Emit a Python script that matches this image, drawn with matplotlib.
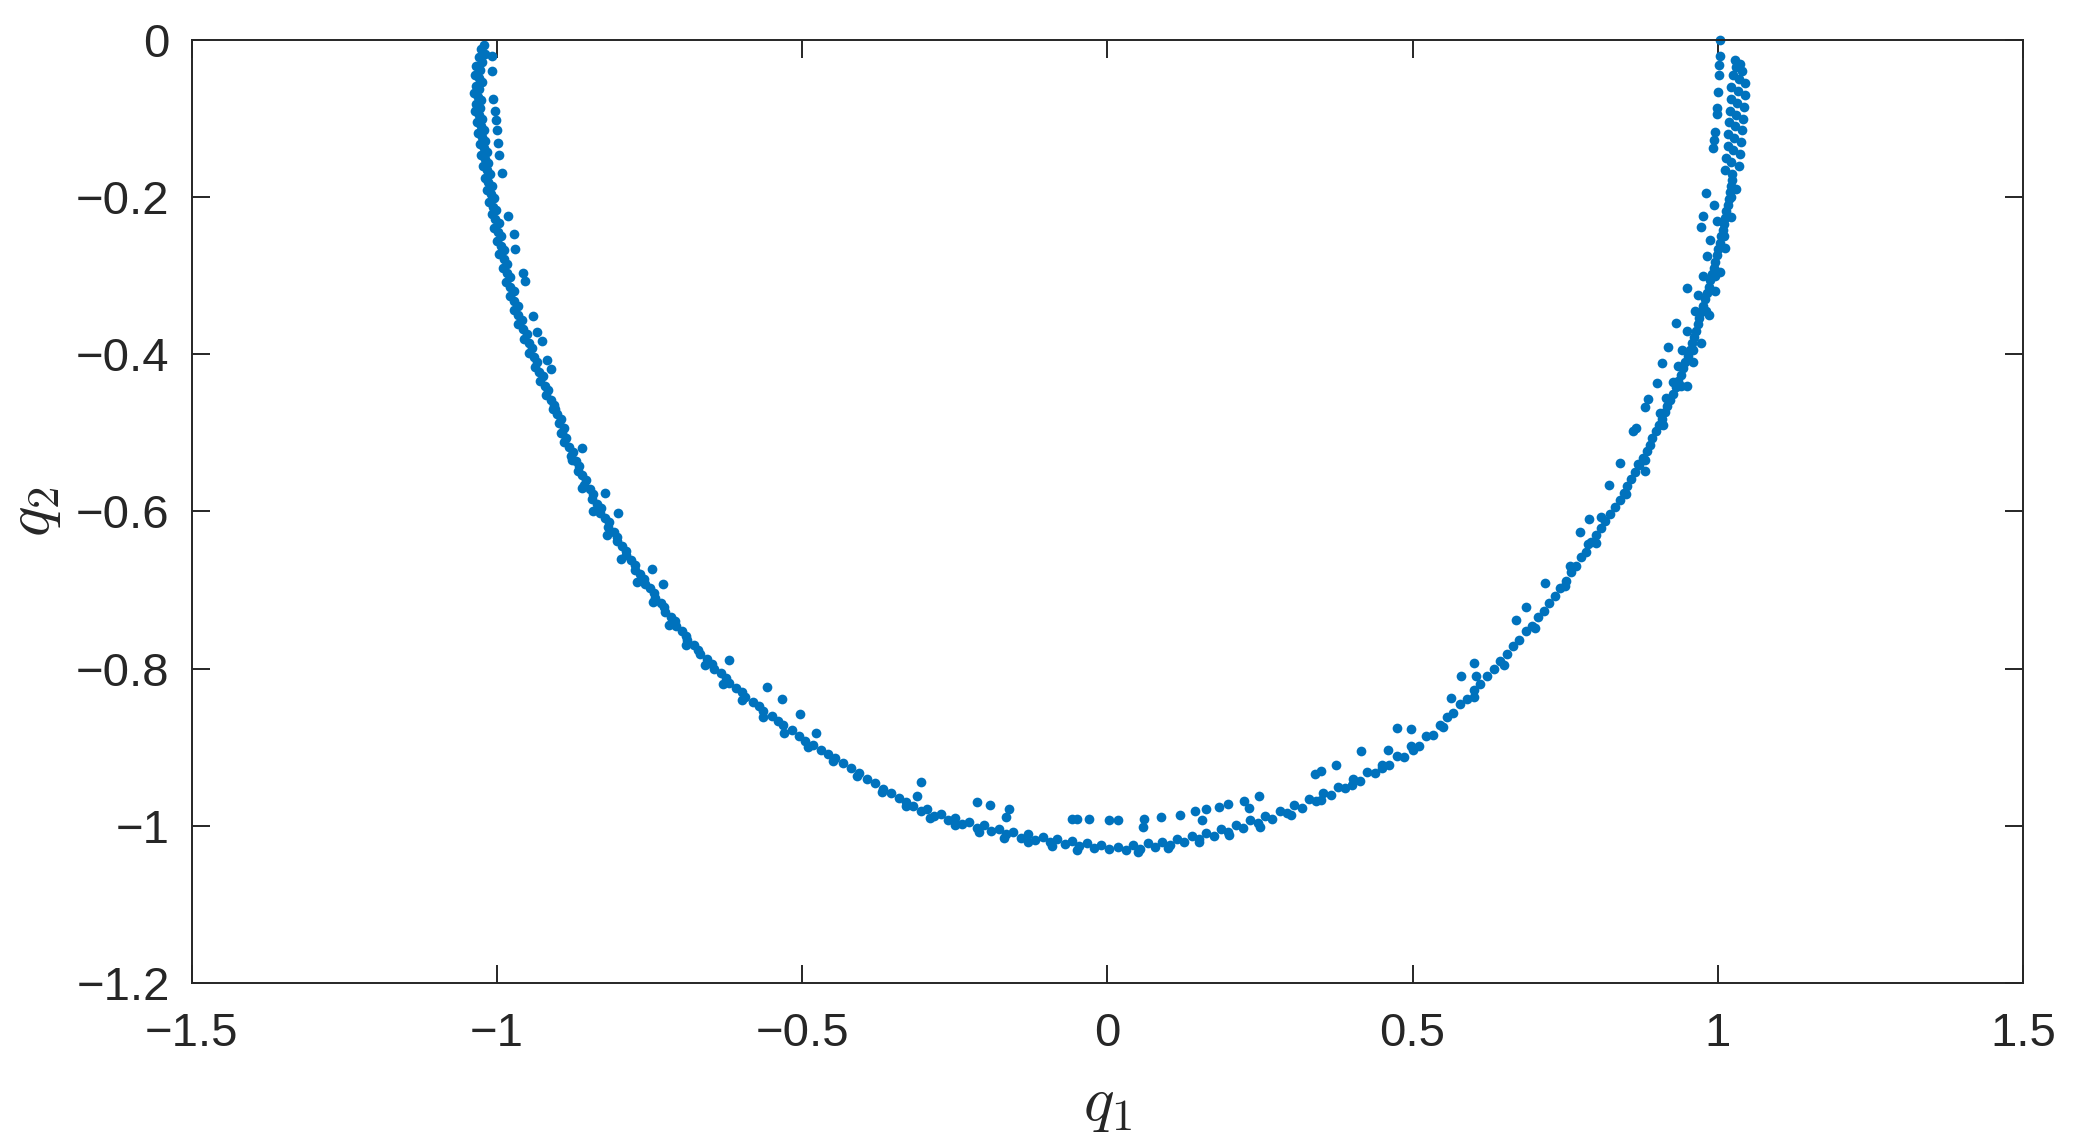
import numpy as np
import matplotlib
matplotlib.use('Agg')
import matplotlib.pyplot as plt

# (q1, q2) samples, grouped by where they sit on the arc
left_arm = [
    (-1.022, -0.006), (-1.027, -0.012), (-1.020, -0.018), (-1.030, -0.022), (-1.025, -0.028),
    (-1.034, -0.033), (-1.028, -0.038), (-1.036, -0.044), (-1.030, -0.049), (-1.024, -0.053),
    (-1.035, -0.058), (-1.029, -0.063), (-1.037, -0.068), (-1.031, -0.072), (-1.026, -0.077),
    (-1.034, -0.082), (-1.028, -0.087), (-1.036, -0.091), (-1.030, -0.096), (-1.024, -0.101),
    (-1.033, -0.105), (-1.027, -0.110), (-1.021, -0.114), (-1.031, -0.119), (-1.025, -0.124),
    (-1.019, -0.128), (-1.028, -0.133), (-1.022, -0.138), (-1.017, -0.142), (-1.026, -0.147),
    (-1.020, -0.152), (-1.014, -0.157), (-1.023, -0.161), (-1.017, -0.166), (-1.011, -0.171),
    (-1.020, -0.176), (-1.014, -0.181), (-1.008, -0.186), (-1.016, -0.191), (-1.010, -0.196),
    (-1.005, -0.201), (-1.013, -0.206), (-1.007, -0.212), (-1.001, -0.217), (-1.009, -0.222),
    (-1.003, -0.228), (-0.997, -0.233), (-1.005, -0.239), (-0.999, -0.245), (-0.993, -0.250),
    (-1.000, -0.256), (-0.994, -0.262), (-0.988, -0.267), (-0.996, -0.273), (-0.989, -0.279),
    (-0.983, -0.285), (-0.991, -0.290), (-0.984, -0.296), (-0.978, -0.302), (-0.985, -0.308),
    (-0.979, -0.314), (-0.972, -0.320), (-0.979, -0.326), (-0.972, -0.332), (-0.966, -0.338),
    (-0.972, -0.344), (-0.965, -0.350), (-0.959, -0.356), (-0.965, -0.362), (-0.957, -0.368),
    (-0.951, -0.374), (-0.956, -0.380), (-0.948, -0.386), (-0.942, -0.392), (-0.947, -0.398),
    (-0.940, -0.404), (-0.934, -0.410), (-0.938, -0.416), (-0.931, -0.422), (-0.925, -0.428),
    (-0.929, -0.434), (-0.921, -0.440), (-0.916, -0.446), (-0.919, -0.452), (-0.911, -0.458),
    (-0.906, -0.464), (-0.909, -0.470), (-0.901, -0.476), (-0.896, -0.482), (-0.898, -0.488),
    (-0.890, -0.494), (-0.893, -0.500), (-0.887, -0.506), (-0.890, -0.512), (-0.882, -0.518),
    (-0.876, -0.524), (-0.879, -0.530), (-0.871, -0.536), (-0.866, -0.542), (-0.868, -0.548),
    (-0.860, -0.554), (-0.855, -0.560), (-0.857, -0.566), (-0.848, -0.572), (-0.843, -0.578),
    (-0.844, -0.584), (-0.836, -0.590), (-0.830, -0.596), (-0.832, -0.602), (-0.823, -0.608),
    (-0.817, -0.614), (-0.818, -0.620), (-0.809, -0.626), (-0.803, -0.632), (-0.804, -0.638),
    (-0.795, -0.644), (-0.789, -0.650), (-0.789, -0.656), (-0.780, -0.662), (-0.774, -0.668),
    (-0.774, -0.674), (-0.765, -0.680), (-0.759, -0.686), (-0.758, -0.692), (-0.749, -0.698),
    (-0.743, -0.704), (-0.742, -0.710), (-0.732, -0.716), (-0.726, -0.722), (-0.725, -0.728),
    (-0.715, -0.734), (-0.709, -0.740), (-0.707, -0.746), (-0.697, -0.752), (-0.690, -0.758),
    (-0.688, -0.764), (-0.677, -0.770), (-0.670, -0.776), (-0.667, -0.782), (-0.656, -0.788),
    (-0.648, -0.794), (-0.645, -0.800), (-0.633, -0.806), (-0.625, -0.812), (-0.620, -0.818),
    (-0.608, -0.824), (-0.599, -0.830), (-0.593, -0.836), (-0.580, -0.842), (-0.571, -0.848),
    (-0.564, -0.854), (-0.550, -0.860), (-0.540, -0.866), (-0.532, -0.872), (-0.517, -0.878),
    (-0.506, -0.886), (-0.496, -0.892), (-0.483, -0.897), (-0.470, -0.903), (-0.458, -0.908),
    (-0.446, -0.914), (-0.433, -0.920), (-0.420, -0.927), (-0.407, -0.933), (-0.394, -0.940),
    (-0.381, -0.946), (-0.368, -0.953), (-0.355, -0.958), (-0.342, -0.964),
]

bottom_arc = [
    (-0.330, -0.970), (-0.318, -0.975), (-0.306, -0.981), (-0.295, -0.979), (-0.284, -0.987),
    (-0.272, -0.985), (-0.261, -0.992), (-0.250, -0.990), (-0.238, -0.998), (-0.226, -0.995),
    (-0.214, -1.003), (-0.202, -0.999), (-0.190, -1.007), (-0.178, -1.004), (-0.166, -1.011),
    (-0.154, -1.008), (-0.142, -1.015), (-0.130, -1.011), (-0.118, -1.018), (-0.106, -1.014),
    (-0.094, -1.020), (-0.082, -1.017), (-0.070, -1.023), (-0.058, -1.019), (-0.046, -1.026),
    (-0.034, -1.022), (-0.022, -1.028), (-0.010, -1.024), (0.002, -1.030), (0.018, -1.027),
    (0.030, -1.031), (0.042, -1.025), (0.054, -1.029), (0.066, -1.022), (0.078, -1.027),
    (0.090, -1.020), (0.102, -1.024), (0.114, -1.017), (0.126, -1.021), (0.138, -1.013),
    (0.150, -1.017), (0.162, -1.009), (0.174, -1.013), (0.186, -1.004), (0.198, -1.008),
    (0.210, -0.999), (0.222, -1.003), (0.234, -0.993), (0.246, -0.997), (0.258, -0.987),
    (0.270, -0.991), (0.282, -0.981), (0.294, -0.984), (0.306, -0.974), (0.318, -0.977),
    (0.330, -0.966), (0.342, -0.969), (0.354, -0.958), (0.366, -0.961), (0.378, -0.950),
    (0.390, -0.952), (0.402, -0.941), (0.414, -0.943), (0.426, -0.932), (0.438, -0.933),
    (0.450, -0.922), (0.462, -0.923), (0.474, -0.911), (0.486, -0.912), (0.498, -0.899),
    (0.510, -0.899), (0.522, -0.886), (0.534, -0.885),
]

right_arm = [
    (0.545, -0.872), (0.556, -0.862), (0.567, -0.856), (0.578, -0.845), (0.589, -0.838),
    (0.600, -0.827), (0.611, -0.820), (0.622, -0.809), (0.633, -0.801), (0.644, -0.790),
    (0.655, -0.782), (0.665, -0.771), (0.675, -0.764), (0.685, -0.752), (0.695, -0.746),
    (0.705, -0.734), (0.715, -0.727), (0.724, -0.716), (0.733, -0.708), (0.742, -0.697),
    (0.751, -0.689), (0.760, -0.677), (0.768, -0.670), (0.776, -0.658), (0.784, -0.651),
    (0.792, -0.639), (0.800, -0.630), (0.808, -0.621), (0.816, -0.612), (0.824, -0.603),
    (0.832, -0.594), (0.840, -0.585), (0.846, -0.577), (0.852, -0.568), (0.858, -0.559),
    (0.865, -0.550), (0.871, -0.541), (0.877, -0.532), (0.884, -0.523), (0.889, -0.515),
    (0.893, -0.507), (0.899, -0.498), (0.904, -0.490), (0.908, -0.482), (0.913, -0.474),
    (0.917, -0.466), (0.922, -0.458), (0.926, -0.450), (0.931, -0.442), (0.935, -0.434),
    (0.940, -0.426), (0.943, -0.418), (0.947, -0.410), (0.951, -0.402), (0.954, -0.394),
    (0.958, -0.386), (0.961, -0.378), (0.964, -0.370), (0.967, -0.362), (0.970, -0.354),
    (0.973, -0.346), (0.976, -0.338), (0.979, -0.330), (0.982, -0.322), (0.985, -0.314),
    (0.988, -0.306), (0.990, -0.298), (0.993, -0.290), (0.996, -0.282), (0.998, -0.274),
    (1.001, -0.266), (1.003, -0.258), (1.005, -0.250), (1.008, -0.242), (1.010, -0.234),
    (1.012, -0.226), (1.014, -0.218), (1.016, -0.210), (1.018, -0.202), (1.020, -0.194),
    (1.021, -0.186), (1.023, -0.178), (1.024, -0.170),
    (0.994, -0.210), (0.998, -0.230), (0.988, -0.255), (0.983, -0.275), (0.975, -0.300),
    (0.968, -0.325), (0.962, -0.345), (0.950, -0.370), (0.942, -0.395), (0.934, -0.415),
    (0.926, -0.435), (0.915, -0.455), (0.906, -0.475), (1.030, -0.190), (1.022, -0.225),
    (1.012, -0.265), (1.004, -0.295), (0.995, -0.320), (0.986, -0.350), (0.972, -0.385),
    (0.960, -0.410), (0.950, -0.440),
]

right_top = [
    (1.012, -0.165), (1.034, -0.160), (1.022, -0.155), (1.014, -0.150), (1.036, -0.145),
    (1.025, -0.140), (1.016, -0.135), (1.038, -0.130), (1.027, -0.125), (1.017, -0.120),
    (1.040, -0.115), (1.029, -0.110), (1.019, -0.105), (1.041, -0.100), (1.030, -0.095),
    (1.020, -0.090), (1.043, -0.085), (1.031, -0.080), (1.021, -0.075), (1.044, -0.070),
    (1.033, -0.065), (1.022, -0.060), (1.045, -0.055), (1.034, -0.050), (1.025, -0.045),
    (1.040, -0.040), (1.030, -0.035), (1.036, -0.030), (1.028, -0.025),
]

# outer edge of the band, where the cloud is a little wider
outer_edge = [
    (-0.905, -0.470), (-0.895, -0.500), (-0.878, -0.535), (-0.860, -0.570), (-0.842, -0.600),
    (-0.820, -0.630), (-0.797, -0.660), (-0.770, -0.690), (-0.745, -0.715), (-0.718, -0.745),
    (-0.690, -0.770), (-0.660, -0.795), (-0.630, -0.820), (-0.598, -0.840), (-0.565, -0.862),
    (-0.530, -0.882), (-0.490, -0.900), (-0.450, -0.918), (-0.410, -0.937), (-0.370, -0.957),
    (-0.330, -0.975), (-0.290, -0.990), (-0.250, -0.999), (-0.210, -1.008), (-0.170, -1.016),
    (-0.130, -1.020), (-0.090, -1.026), (-0.050, -1.031),
    (0.050, -1.033), (0.100, -1.028), (0.150, -1.021), (0.200, -1.012), (0.250, -1.001),
    (0.300, -0.986), (0.350, -0.967), (0.400, -0.948), (0.450, -0.927), (0.500, -0.904),
    (0.550, -0.874), (0.600, -0.836), (0.650, -0.795), (0.700, -0.748), (0.750, -0.695),
    (0.800, -0.640), (0.850, -0.578), (0.880, -0.535), (0.910, -0.490), (0.940, -0.440),
    (0.960, -0.395), (0.980, -0.345), (0.995, -0.300), (1.010, -0.250), (1.022, -0.200),
]

stray_points = [
    # left arm, inner side
    (-1.009, -0.021), (-1.009, -0.040), (-1.006, -0.075), (-1.003, -0.090), (-1.002, -0.102),
    (-1.000, -0.115), (-0.999, -0.131), (-0.996, -0.147), (-0.992, -0.169), (-0.982, -0.224),
    (-0.972, -0.247), (-0.971, -0.266), (-0.958, -0.297), (-0.955, -0.307), (-0.941, -0.351),
    (-0.934, -0.371), (-0.927, -0.383), (-0.918, -0.407), (-0.912, -0.419),
    (-0.860, -0.519), (-0.823, -0.577), (-0.802, -0.602), (-0.746, -0.673), (-0.728, -0.692),
    (-0.620, -0.789), (-0.558, -0.823), (-0.533, -0.839), (-0.503, -0.858), (-0.478, -0.882),
    # bottom, inner row
    (-0.305, -0.944), (-0.312, -0.962), (-0.213, -0.970), (-0.193, -0.973), (-0.162, -0.979),
    (-0.166, -0.989), (-0.058, -0.991), (-0.050, -0.991), (-0.030, -0.991), (0.002, -0.992),
    (0.017, -0.992), (0.060, -0.991), (0.059, -1.002), (0.088, -0.989), (0.119, -0.986),
    (0.144, -0.981), (0.162, -0.979), (0.155, -0.992), (0.183, -0.976), (0.198, -0.972),
    (0.223, -0.968), (0.232, -0.977), (0.248, -0.962), (0.340, -0.934), (0.350, -0.930),
    (0.374, -0.922), (0.415, -0.905), (0.459, -0.904), (0.475, -0.875), (0.498, -0.877),
    # right arm, inner side
    (0.601, -0.793), (0.580, -0.809), (0.604, -0.809), (0.563, -0.837), (0.669, -0.738),
    (0.686, -0.722), (0.717, -0.691), (0.758, -0.669), (0.788, -0.641), (0.775, -0.626),
    (0.808, -0.607), (0.789, -0.609), (0.822, -0.566), (0.880, -0.549), (0.869, -0.539),
    (0.839, -0.538), (0.861, -0.498), (0.866, -0.494), (0.880, -0.467), (0.886, -0.457),
    (0.900, -0.436), (0.909, -0.411), (0.919, -0.391), (0.931, -0.360), (0.949, -0.315),
    (0.972, -0.238), (0.976, -0.224), (0.981, -0.195), (0.992, -0.137), (0.994, -0.127),
    (0.995, -0.117), (0.998, -0.094), (0.998, -0.086), (1.001, -0.066), (1.002, -0.045),
    (1.002, -0.032), (1.003, -0.021), (1.003, 0.000),
]

x_ticks = [-1.5, -1.0, -0.5, 0.0, 0.5, 1.0, 1.5]
x_tick_labels = ['\u22121.5', '\u22121', '\u22120.5', '0', '0.5', '1', '1.5']
y_ticks = [-1.2, -1.0, -0.8, -0.6, -0.4, -0.2, 0.0]
y_tick_labels = ['\u22121.2', '\u22121', '\u22120.8', '\u22120.6', '\u22120.4', '\u22120.2', '0']

plt.rcParams['font.family'] = ['Liberation Sans', 'DejaVu Sans']
plt.rcParams['mathtext.fontset'] = 'cm'

fig = plt.figure(figsize=(20.74, 11.45), dpi=100)
ax = fig.add_axes([0.0925, 0.1415, 0.8829, 0.8236])

all_points = np.array(left_arm + bottom_arc + right_arm + right_top + outer_edge + stray_points)
ax.plot(all_points[:, 0], all_points[:, 1], 'o', markersize=7.0, markeredgewidth=0,
        color='#0072BD', clip_on=False)

ax.set_xlim(-1.5, 1.5)
ax.set_ylim(-1.2, 0)
ax.set_xticks(x_ticks)
ax.set_xticklabels(x_tick_labels)
ax.set_yticks(y_ticks)
ax.set_yticklabels(y_tick_labels)

axis_color = '#262626'
for spine in ax.spines.values():
    spine.set_linewidth(1.4)
    spine.set_color(axis_color)
ax.tick_params(direction='in', length=13, width=1.4, colors=axis_color,
               labelsize=34, top=True, right=True)
ax.tick_params(axis='x', pad=21)
ax.tick_params(axis='y', pad=16)

ax.set_xlabel(r'$q_1$', fontsize=46, color=axis_color, va='center')
ax.set_ylabel(r'$q_2$', fontsize=46, color=axis_color, va='center')
ax.xaxis.set_label_coords(0.5, -0.128)
ax.yaxis.set_label_coords(-0.087, 0.5)

fig.savefig('out.png', dpi=100)
